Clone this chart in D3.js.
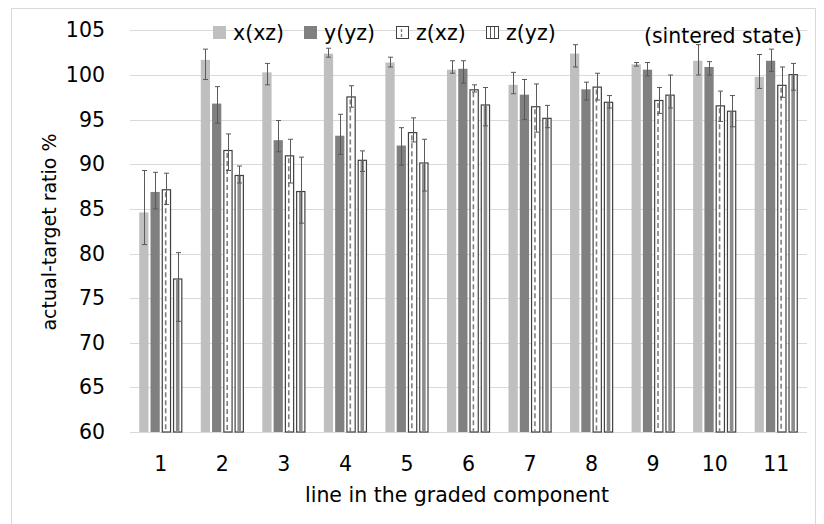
<!DOCTYPE html>
<html>
<head>
<meta charset="utf-8">
<script src="https://cdn.jsdelivr.net/npm/d3@7"></script>
<style>
  html, body { margin: 0; padding: 0; background: #fff; }
  svg { display: block; font-family: "DejaVu Sans", sans-serif; }
</style>
</head>
<body>
<svg id="chart" width="824" height="524"></svg>
<script>
// ---- data ----
const categories = ["1","2","3","4","5","6","7","8","9","10","11"];
const seriesNames = ["x(xz)", "y(yz)", "z(xz)", "z(yz)"];
const yTicks = [60, 65, 70, 75, 80, 85, 90, 95, 100, 105];

const xxz = [84.6, 101.7, 100.3, 102.4, 101.4, 100.6, 98.9, 102.4, 101.2, 101.6, 99.8];
const yyz = [86.9, 96.8, 92.7, 93.2, 92.1, 100.7, 97.8, 98.4, 100.6, 100.9, 101.6];
const zxz = [87.2, 91.6, 91.0, 97.6, 93.6, 98.4, 96.5, 98.7, 97.2, 96.6, 98.9];
const zyz = [77.2, 88.8, 87.0, 90.5, 90.2, 96.7, 95.2, 97.0, 97.8, 96.0, 100.1];

// error bar bounds (low / high)
const xxzLo = [81.0, 99.5, 98.9, 102.0, 100.9, 100.2, 97.9, 100.9, 101.0, 100.0, 98.5];
const xxzHi = [89.3, 102.9, 101.3, 103.0, 102.0, 101.6, 100.3, 103.4, 101.4, 103.4, 102.3];
const yyzLo = [85.0, 94.6, 91.4, 91.1, 89.9, 99.1, 95.0, 97.2, 99.9, 100.0, 100.4];
const yyzHi = [89.1, 98.7, 94.9, 95.6, 94.1, 101.6, 99.5, 99.2, 101.4, 101.5, 102.9];
const zxzLo = [85.5, 89.3, 87.9, 96.4, 92.5, 98.1, 93.6, 97.2, 95.7, 94.8, 97.5];
const zxzHi = [89.0, 93.4, 92.8, 98.8, 95.2, 98.9, 99.0, 100.2, 98.6, 98.2, 100.9];
const zyzLo = [72.4, 87.9, 83.4, 89.2, 87.0, 94.3, 94.1, 96.3, 96.3, 94.2, 98.3];
const zyzHi = [80.1, 89.8, 90.8, 91.5, 92.8, 98.6, 96.6, 97.7, 100.0, 97.7, 101.3];

const values = [xxz, yyz, zxz, zyz];
const lows = [xxzLo, yyzLo, zxzLo, zyzLo];
const highs = [xxzHi, yyzHi, zxzHi, zyzHi];

// ---- layout ----
const svg = d3.select("#chart");
const plot = { left: 130, right: 807, top: 30.4, bottom: 432 };
const FS = 20.5;

// outer border
svg.append("rect")
  .attr("x", 11.5).attr("y", 8.5).attr("width", 804).attr("height", 540)
  .attr("fill", "none").attr("stroke", "#d9d9d9").attr("stroke-width", 1);

const y = d3.scaleLinear().domain([60, 105]).range([plot.bottom, plot.top]);
const x0 = d3.scaleBand().domain(categories).range([plot.left, plot.right])
  .paddingInner(0.3).paddingOuter(0.15);
const x1 = d3.scaleBand().domain(seriesNames).range([0, x0.bandwidth()]).paddingInner(0.18);

// gridlines
svg.append("g").selectAll("line").data(yTicks).join("line")
  .attr("x1", plot.left).attr("x2", plot.right)
  .attr("y1", d => Math.round(y(d)) + 0.5).attr("y2", d => Math.round(y(d)) + 0.5)
  .attr("stroke", "#d9d9d9").attr("stroke-width", 1);

// y axis labels
const yAxis = d3.axisLeft(y).tickValues(yTicks).tickSize(0).tickPadding(0);
const gy = svg.append("g").attr("transform", `translate(105,0)`).call(yAxis);
gy.select(".domain").remove();
gy.selectAll("text").attr("font-size", FS).attr("fill", "#000")
  .attr("font-family", "'DejaVu Sans', sans-serif");

// x axis labels
const xAxis = d3.axisBottom(x0).tickSize(0).tickPadding(0);
const gx = svg.append("g").attr("transform", `translate(0,456)`).call(xAxis);
gx.select(".domain").remove();
gx.selectAll("text").attr("font-size", FS).attr("fill", "#000")
  .attr("font-family", "'DejaVu Sans', sans-serif");

// axis titles
svg.append("text").attr("transform", "translate(56,232) rotate(-90)")
  .attr("text-anchor", "middle").attr("font-size", 19).attr("fill", "#000")
  .text("actual-target ratio %");
svg.append("text").attr("x", 457).attr("y", 502)
  .attr("text-anchor", "middle").attr("font-size", FS).attr("fill", "#000")
  .text("line in the graded component");

// ---- bars ----
const fills = ["#bfbfbf", "#808080", "#ffffff", "#ffffff"];
const barsG = svg.append("g");

function drawBar(g, si, x, yTop, w, h) {
  if (si === 0 || si === 1) {
    g.append("rect").attr("x", x).attr("y", yTop).attr("width", w).attr("height", h)
      .attr("fill", fills[si]);
  } else if (si === 2) {
    g.append("rect").attr("x", x + 0.5).attr("y", yTop + 0.5).attr("width", w - 1).attr("height", h - 0.5)
      .attr("fill", "#fff").attr("stroke", "#404040").attr("stroke-width", 1.2);
    g.append("line").attr("x1", x + w * 0.42).attr("x2", x + w * 0.42)
      .attr("y1", yTop + 3).attr("y2", yTop + h)
      .attr("stroke", "#7f7f7f").attr("stroke-width", 1.6).attr("stroke-dasharray", "5,3");
  } else {
    g.append("rect").attr("x", x + 0.5).attr("y", yTop + 0.5).attr("width", w - 1).attr("height", h - 0.5)
      .attr("fill", "#fff").attr("stroke", "#404040").attr("stroke-width", 1.2);
    g.append("rect").attr("x", x + w / 2 - 1.8).attr("y", yTop + 1).attr("width", 3.6).attr("height", h - 1)
      .attr("fill", "#8c8c8c");
  }
}

categories.forEach((c, ci) => {
  seriesNames.forEach((s, si) => {
    const v = values[si][ci];
    const bx = x0(c) + x1(s);
    const w = x1.bandwidth();
    const yTop = y(v);
    drawBar(barsG, si, bx, yTop, w, plot.bottom - yTop);
  });
});

// ---- error bars ----
const errG = svg.append("g").attr("stroke", "#595959").attr("stroke-width", 1);
categories.forEach((c, ci) => {
  seriesNames.forEach((s, si) => {
    const cx = Math.round(x0(c) + x1(s) + x1.bandwidth() / 2) + 0.5;
    const lo = y(lows[si][ci]), hi = y(highs[si][ci]);
    errG.append("line").attr("x1", cx).attr("x2", cx).attr("y1", lo).attr("y2", hi);
    errG.append("line").attr("x1", cx - 2.5).attr("x2", cx + 2.5).attr("y1", lo).attr("y2", lo);
    errG.append("line").attr("x1", cx - 2.5).attr("x2", cx + 2.5).attr("y1", hi).attr("y2", hi);
  });
});

// ---- legend ----
const legendX = [213, 304, 396, 486];
const legendG = svg.append("g");
seriesNames.forEach((s, si) => {
  const g = legendG.append("g").attr("transform", `translate(${legendX[si]},26)`);
  if (si < 2) {
    g.append("rect").attr("width", 13).attr("height", 13).attr("fill", fills[si]);
  } else if (si === 2) {
    g.append("rect").attr("x", 0.5).attr("y", 0.5).attr("width", 12).attr("height", 12)
      .attr("fill", "#fff").attr("stroke", "#404040").attr("stroke-width", 1);
    g.append("line").attr("x1", 5.5).attr("x2", 5.5).attr("y1", 3).attr("y2", 13)
      .attr("stroke", "#7f7f7f").attr("stroke-width", 1.4).attr("stroke-dasharray", "3,2");
  } else {
    g.append("rect").attr("x", 0.5).attr("y", 0.5).attr("width", 12).attr("height", 12)
      .attr("fill", "#fff").attr("stroke", "#404040").attr("stroke-width", 1);
    g.append("line").attr("x1", 4.5).attr("x2", 4.5).attr("y1", 1).attr("y2", 12).attr("stroke", "#595959");
    g.append("line").attr("x1", 8.5).attr("x2", 8.5).attr("y1", 1).attr("y2", 12).attr("stroke", "#595959");
  }
  g.append("text").attr("x", 20).attr("y", 6.5).attr("dy", "0.35em")
    .attr("font-size", FS).attr("fill", "#000").text(s);
});
svg.append("text").attr("x", 802).attr("y", 36).attr("dy", "0.35em")
  .attr("text-anchor", "end").attr("font-size", FS).attr("fill", "#000")
  .text("(sintered state)");
</script>
</body>
</html>
